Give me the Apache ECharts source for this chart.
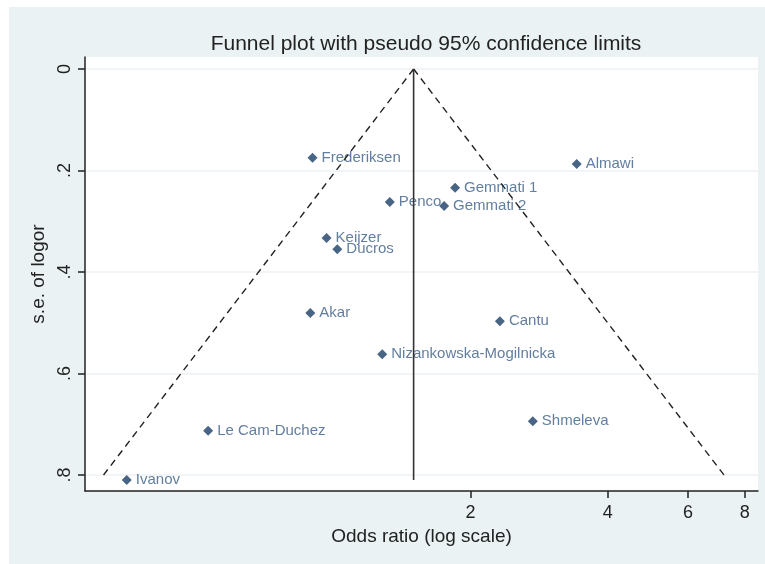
<!DOCTYPE html>
<html>
<head>
<meta charset="utf-8">
<title>Funnel plot</title>
<script src="https://cdn.jsdelivr.net/npm/echarts@6/dist/echarts.min.js"></script>
<style>
  html, body { margin: 0; padding: 0; background: #ffffff; }
  #wrap { position: absolute; left: 9px; top: 7px; width: 756px; height: 557px; background: #eaf2f3; }
  #chart { position: absolute; left: 0; top: 0; width: 765px; height: 564px; }
</style>
</head>
<body>
<div id="wrap"></div>
<div id="chart"></div>
<script>
// studies: odds ratio and standard error of log odds ratio
var studyNames = ['Frederiksen', 'Almawi', 'Gemmati 1', 'Penco', 'Gemmati 2', 'Keijzer', 'Ducros',
  'Akar', 'Cantu', 'Nizankowska-Mogilnicka', 'Shmeleva', 'Le Cam-Duchez', 'Ivanov']
var oddsRatio = [0.90, 3.42, 1.85, 1.33, 1.75, 0.966, 1.02, 0.89, 2.32, 1.28, 2.74, 0.531, 0.352]
var seLogOr = [0.175, 0.187, 0.234, 0.262, 0.270, 0.333, 0.355, 0.481, 0.497, 0.562, 0.694, 0.713, 0.810]

// pooled estimate and pseudo 95% limits
var pooledOr = 1.5
var pooledLineSe = [0, 0.81]
var lowerLimit = [[1.5, 0], [0.313, 0.8]]
var upperLimit = [[1.5, 0], [7.2, 0.8]]

var xTicks = [2, 4, 6, 8]
var yTicks = [0, 0.2, 0.4, 0.6, 0.8]

var chart = echarts.init(document.getElementById('chart'))

var points = studyNames.map(function (n, i) {
  return { name: n, value: [oddsRatio[i], seLogOr[i]] }
})

var font = 'Liberation Sans, Arial, sans-serif'

chart.setOption({
  backgroundColor: 'transparent',
  animation: false,
  title: {
    text: 'Funnel plot with pseudo 95% confidence limits',
    left: 421,
    textAlign: 'center',
    top: 29,
    textStyle: { fontFamily: font, fontSize: 21, fontWeight: 'normal', color: '#222' }
  },
  grid: {
    left: 85, top: 57, right: 7, bottom: 73,
    show: true, backgroundColor: '#ffffff', borderWidth: 0
  },
  xAxis: {
    type: 'log',
    min: 0.285,
    max: 8.55,
    name: 'Odds ratio (log scale)',
    nameLocation: 'middle',
    nameGap: 34,
    nameTextStyle: { fontFamily: font, fontSize: 19, color: '#222' },
    axisLine: { show: true, onZero: false, lineStyle: { color: '#222', width: 1.5 } },
    axisTick: { show: true, customValues: xTicks, length: 7, lineStyle: { color: '#222', width: 1.5 } },
    axisLabel: { customValues: xTicks, fontFamily: font, fontSize: 18, color: '#222', margin: 13 },
    splitLine: { show: false },
    minorTick: { show: false }
  },
  yAxis: {
    type: 'value',
    inverse: true,
    min: -0.0236,
    max: 0.8315,
    name: 's.e. of logor',
    nameLocation: 'middle',
    nameGap: 35,
    nameTextStyle: { fontFamily: font, fontSize: 19, color: '#222' },
    axisLine: { show: true, onZero: false, lineStyle: { color: '#222', width: 1.5 } },
    axisTick: { show: true, customValues: yTicks, length: 7, lineStyle: { color: '#222', width: 1.5 } },
    axisLabel: {
      customValues: yTicks,
      rotate: 90,
      fontFamily: font,
      fontSize: 18,
      color: '#222',
      margin: 11,
      formatter: function (v) { return v === 0 ? '0' : String(+v.toFixed(1)).replace(/^0/, '') }
    },
    splitLine: { show: true, lineStyle: { color: '#ecf2f5', width: 1.5 } }
  },
  series: [
    {
      type: 'line',
      data: lowerLimit,
      symbol: 'none',
      lineStyle: { color: '#222', width: 1.4, type: [7, 5] },
      silent: true
    },
    {
      type: 'line',
      data: upperLimit,
      symbol: 'none',
      lineStyle: { color: '#222', width: 1.4, type: [7, 5] },
      silent: true
    },
    {
      type: 'line',
      data: pooledLineSe.map(function (s) { return [pooledOr, s] }),
      symbol: 'none',
      lineStyle: { color: '#333', width: 1.6 },
      silent: true
    },
    {
      type: 'scatter',
      data: points,
      symbol: 'diamond',
      symbolSize: 10,
      itemStyle: { color: '#1a3f66' },
      label: {
        show: true,
        position: 'right',
        distance: 4,
        formatter: '{b}',
        fontFamily: font,
        fontSize: 15,
        color: '#3a5d88'
      }
    }
  ]
})
</script>
</body>
</html>
